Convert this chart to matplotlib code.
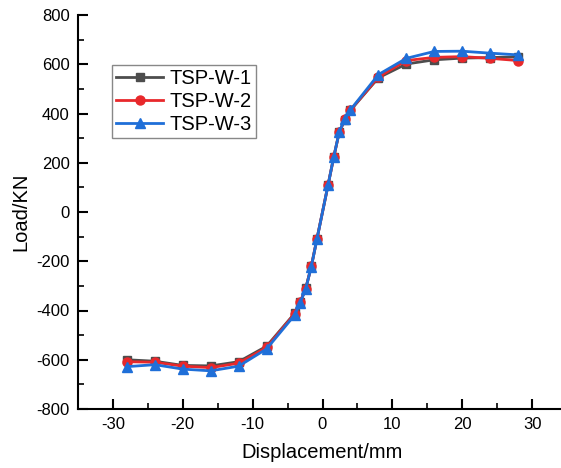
import matplotlib
matplotlib.use('Agg')
import matplotlib.pyplot as plt
from matplotlib.ticker import MultipleLocator

plt.rcParams['font.family'] = ['Liberation Sans', 'DejaVu Sans']
plt.rcParams['axes.unicode_minus'] = False

# Displacement (mm)
disp = [-28, -24, -20, -16, -12, -8, -4, -3.2, -2.4, -1.6, -0.8,
        0.8, 1.6, 2.4, 3.2, 4, 8, 12, 16, 20, 24, 28]

# Load (kN)
load_w1 = [-600, -606, -623, -625, -608, -545, -412, -366, -310, -220, -110,
           110, 222, 324, 375, 413, 545, 601, 618, 625, 627, 630]
load_w2 = [-608, -610, -626, -632, -614, -550, -414, -367, -311, -221, -110,
           110, 222, 325, 376, 414, 548, 615, 628, 631, 624, 615]
load_w3 = [-628, -620, -638, -645, -626, -556, -419, -369, -312, -222, -111,
           110, 222, 326, 377, 415, 558, 624, 652, 653, 645, 638]

labels = ['TSP-W-1', 'TSP-W-2', 'TSP-W-3']


def main():
    fig = plt.figure(figsize=(5.61, 4.68), dpi=100)
    ax = fig.add_axes([78 / 561, 59 / 468, 489 / 561, 394 / 468])

    ax.plot(disp, load_w1, color='#4d4d4d', marker='s', ms=6, lw=2, label=labels[0])
    ax.plot(disp, load_w2, color='#e8282b', marker='o', ms=6.5, lw=2, label=labels[1])
    ax.plot(disp, load_w3, color='#1f6fd8', marker='^', ms=7, lw=2, label=labels[2])

    ax.set_xlim(-35, 35)
    ax.set_ylim(-800, 800)
    ax.xaxis.set_major_locator(MultipleLocator(10))
    ax.xaxis.set_minor_locator(MultipleLocator(5))
    ax.yaxis.set_major_locator(MultipleLocator(200))
    ax.yaxis.set_minor_locator(MultipleLocator(100))

    for side in ['top', 'right']:
        ax.spines[side].set_visible(False)
    for side in ['left', 'bottom']:
        ax.spines[side].set_linewidth(1.5)

    ax.tick_params(which='major', direction='in', length=7, width=1.5, labelsize=12, pad=6)
    ax.tick_params(which='minor', direction='in', length=4, width=1.2)

    ax.set_xlabel('Displacement/mm', fontsize=14.5, labelpad=8)
    ax.set_ylabel('Load/KN', fontsize=14.5, labelpad=4)

    leg = ax.legend(loc='upper left', bbox_to_anchor=(112 / 561, 1 - 65 / 468),
                    bbox_transform=fig.transFigure, borderaxespad=0,
                    fontsize=14.5, handlelength=2.35, fancybox=False,
                    edgecolor='#888888', framealpha=1,
                    labelspacing=0.2, borderpad=0.2, handletextpad=0.3)
    leg.get_frame().set_linewidth(1.0)

    fig.savefig('out.png', dpi=100)


if __name__ == "__main__":
    main()
